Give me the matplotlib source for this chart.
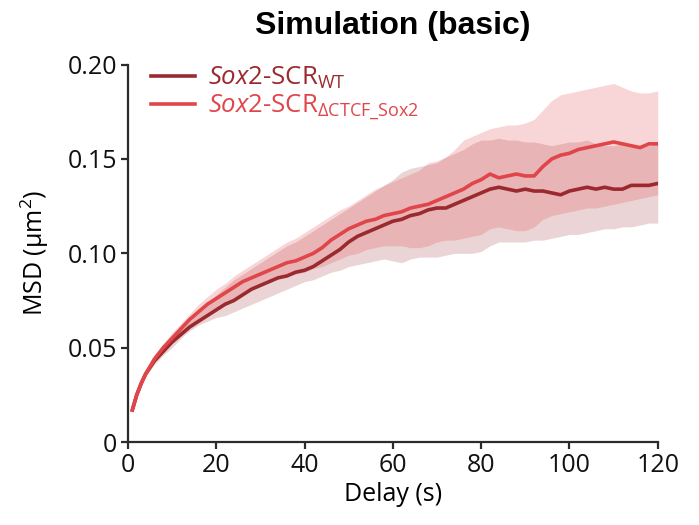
import matplotlib
matplotlib.use("Agg")
import matplotlib.pyplot as plt

# delay (s)
delay = [1, 2, 3, 4] + list(range(6, 121, 2))

# Sox2-SCR WT : mean and band
wt_mean = [0.017, 0.025, 0.031, 0.036, 0.043, 0.048, 0.053, 0.057, 0.061, 0.064,
           0.067, 0.070, 0.073, 0.075, 0.078, 0.081, 0.083, 0.085, 0.087, 0.088,
           0.090, 0.091, 0.093, 0.096, 0.099, 0.102, 0.106, 0.109, 0.111, 0.113,
           0.115, 0.117, 0.118, 0.120, 0.121, 0.123, 0.124, 0.124, 0.126, 0.128,
           0.130, 0.132, 0.134, 0.135, 0.134, 0.133, 0.134, 0.133, 0.133, 0.132,
           0.131, 0.133, 0.134, 0.135, 0.134, 0.135, 0.134, 0.134, 0.136, 0.136,
           0.136, 0.137]
wt_hi = [0.017, 0.025, 0.031, 0.036, 0.044, 0.050, 0.056, 0.061, 0.066, 0.070,
         0.074, 0.078, 0.082, 0.086, 0.089, 0.092, 0.095, 0.098, 0.101, 0.104,
         0.106, 0.109, 0.112, 0.115, 0.118, 0.121, 0.124, 0.127, 0.130, 0.133,
         0.136, 0.139, 0.143, 0.145, 0.146, 0.147, 0.148, 0.151, 0.153, 0.155,
         0.158, 0.160, 0.160, 0.161, 0.160, 0.160, 0.159, 0.159, 0.158, 0.157,
         0.158, 0.159, 0.159, 0.160, 0.158, 0.157, 0.157, 0.158, 0.157, 0.156,
         0.157, 0.158]
wt_lo = [0.017, 0.024, 0.030, 0.035, 0.041, 0.046, 0.050, 0.055, 0.059, 0.062,
         0.064, 0.066, 0.067, 0.069, 0.071, 0.073, 0.075, 0.077, 0.079, 0.081,
         0.083, 0.085, 0.086, 0.088, 0.090, 0.091, 0.093, 0.094, 0.095, 0.096,
         0.097, 0.096, 0.095, 0.097, 0.098, 0.098, 0.098, 0.099, 0.100, 0.100,
         0.100, 0.101, 0.104, 0.106, 0.106, 0.106, 0.106, 0.107, 0.107, 0.108,
         0.109, 0.110, 0.110, 0.111, 0.112, 0.113, 0.113, 0.114, 0.114, 0.115,
         0.116, 0.116]

# Sox2-SCR dCTCF_Sox2 : mean and band
ko_mean = [0.017, 0.025, 0.031, 0.036, 0.044, 0.050, 0.055, 0.060, 0.065, 0.069,
           0.073, 0.076, 0.079, 0.082, 0.085, 0.087, 0.089, 0.091, 0.093, 0.095,
           0.096, 0.098, 0.100, 0.103, 0.107, 0.110, 0.113, 0.115, 0.117, 0.118,
           0.120, 0.121, 0.122, 0.124, 0.125, 0.126, 0.128, 0.130, 0.132, 0.134,
           0.137, 0.139, 0.142, 0.140, 0.141, 0.142, 0.141, 0.141, 0.146, 0.150,
           0.152, 0.153, 0.155, 0.156, 0.157, 0.158, 0.159, 0.158, 0.157, 0.156,
           0.158, 0.158]
ko_hi = [0.017, 0.025, 0.031, 0.036, 0.045, 0.052, 0.058, 0.063, 0.068, 0.073,
         0.077, 0.081, 0.084, 0.088, 0.091, 0.094, 0.097, 0.100, 0.103, 0.106,
         0.108, 0.111, 0.114, 0.117, 0.120, 0.123, 0.125, 0.128, 0.131, 0.134,
         0.136, 0.138, 0.140, 0.142, 0.144, 0.148, 0.149, 0.151, 0.155, 0.160,
         0.162, 0.164, 0.166, 0.167, 0.168, 0.168, 0.169, 0.171, 0.176, 0.181,
         0.184, 0.185, 0.186, 0.187, 0.188, 0.189, 0.190, 0.188, 0.186, 0.185,
         0.185, 0.186]
ko_lo = [0.017, 0.025, 0.031, 0.036, 0.043, 0.048, 0.052, 0.056, 0.060, 0.064,
         0.067, 0.070, 0.073, 0.076, 0.079, 0.081, 0.083, 0.085, 0.087, 0.088,
         0.089, 0.090, 0.092, 0.093, 0.095, 0.097, 0.099, 0.100, 0.102, 0.103,
         0.104, 0.104, 0.104, 0.103, 0.103, 0.104, 0.106, 0.107, 0.107, 0.108,
         0.109, 0.110, 0.113, 0.114, 0.113, 0.112, 0.112, 0.114, 0.118, 0.120,
         0.121, 0.122, 0.123, 0.124, 0.124, 0.125, 0.126, 0.127, 0.128, 0.129,
         0.130, 0.131]

wt_label = r"$\it{Sox2}$-SCR$_{\rm WT}$"
ko_label = r"$\it{Sox2}$-SCR$_{\rm ΔCTCF\_Sox2}$"

wt_col = "#9B2A2F"
ko_col = "#E0454A"

plt.rcParams["font.family"] = ["Open Sans", "DejaVu Sans"]
plt.rcParams["mathtext.fontset"] = "custom"
plt.rcParams["mathtext.rm"] = "Open Sans"
plt.rcParams["mathtext.it"] = "Open Sans:italic"

fig = plt.figure(figsize=(6.99, 5.25), dpi=100)
ax = fig.add_axes([0.183, 0.158, 0.758, 0.719])

ax.fill_between(delay, wt_lo, wt_hi, color=wt_col, alpha=0.2, lw=0)
ax.fill_between(delay, ko_lo, ko_hi, color=ko_col, alpha=0.22, lw=0)
ax.plot(delay, wt_mean, color=wt_col, lw=2.6, label=wt_label)
ax.plot(delay, ko_mean, color=ko_col, lw=2.6, label=ko_label)

ax.set_xlim(0, 120)
ax.set_ylim(0, 0.2)
ax.set_xticks([0, 20, 40, 60, 80, 100, 120])
ax.set_yticks([0, 0.05, 0.10, 0.15, 0.20])
ax.set_yticklabels(["0", "0.05", "0.10", "0.15", "0.20"])

for s in ["top", "right"]:
    ax.spines[s].set_visible(False)
for s in ["left", "bottom"]:
    ax.spines[s].set_linewidth(1.6)
    ax.spines[s].set_color("#2b2b2b")
ax.tick_params(direction="out", length=5, width=1.6, color="#2b2b2b",
               labelsize=18, labelcolor="#111111", pad=3)

ax.set_xlabel("Delay (s)", fontsize=18, labelpad=3)
ax.set_ylabel("MSD (μm$^{2}$)", fontsize=18, labelpad=12)
ax.set_title("Simulation (basic)", fontsize=23, fontweight="bold",
             family="Liberation Sans", pad=22)

ax.legend(loc="upper left", bbox_to_anchor=(0.0, 1.06), frameon=False,
          fontsize=18.5, handlelength=1.7, handletextpad=0.5, labelspacing=0.05,
          labelcolor="linecolor")

fig.savefig("out.png", dpi=100)
